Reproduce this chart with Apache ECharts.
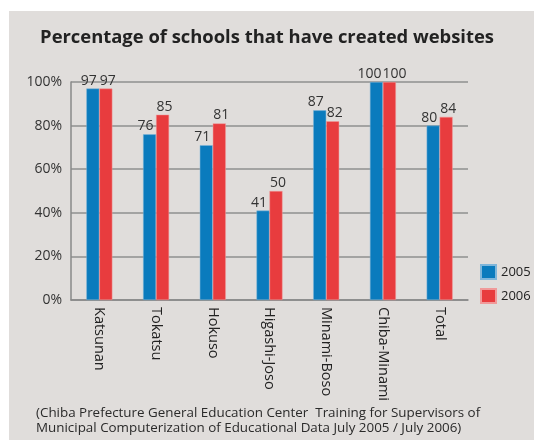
<!DOCTYPE html>
<html>
<head>
<meta charset="utf-8">
<script src="https://cdn.jsdelivr.net/npm/echarts@6/dist/echarts.min.js"></script>
<style>
  html, body { margin: 0; padding: 0; background: #fff; }
  #chart { width: 534px; height: 440px; }
</style>
</head>
<body>
<div id="chart"></div>
<script>
var categories = ['Katsunan', 'Tokatsu', 'Hokuso', 'Higashi-Joso', 'Minami-Boso', 'Chiba-Minami', 'Total'];
var data2005 = [97, 76, 71, 41, 87, 100, 80];
var data2006 = [97, 85, 81, 50, 82, 100, 84];
var yTicks = [0, 20, 40, 60, 80, 100];

var font = '"Open Sans", "Noto Sans", sans-serif';

// labels push apart a bit more when the number has 3 digits
function withLabelShift(values, dir) {
    return values.map(function (v) {
        var wide = String(v).length > 2;
        var dx = dir < 0 ? (wide ? -7 : -4) : (wide ? 5 : 2);
        return { value: v, label: { offset: [dx, 0] } };
    });
}

var chart = echarts.init(document.getElementById('chart'));
chart.setOption({
    backgroundColor: '#fff',
    graphic: [
        {
            type: 'rect', z: -10, silent: true,
            shape: { x: 9, y: 11, width: 525, height: 429 },
            style: { fill: '#e0dddb' }
        },
        {
            type: 'text', left: 36, top: 406,
            style: {
                text: '(Chiba Prefecture General Education Center  Training for Supervisors of\nMunicipal Computerization of Educational Data July 2005 / July 2006)',
                font: '13.4px ' + font, fill: '#2a2a2a', lineHeight: 15
            }
        }
    ],
    title: {
        text: 'Percentage of schools that have created websites',
        left: 'center', top: 24,
        textStyle: { fontFamily: font, fontSize: 18.4, fontWeight: 'bold', color: '#222' }
    },
    legend: {
        orient: 'vertical', left: 480, top: 264, padding: 0,
        itemWidth: 15, itemHeight: 14, itemGap: 8,
        icon: 'rect',
        textStyle: { fontFamily: font, fontSize: 13, color: '#222' },
        data: ['2005', '2006']
    },
    grid: { left: 71, right: 66, top: 82, bottom: 140 },
    xAxis: {
        type: 'category',
        data: categories,
        axisLine: { lineStyle: { color: '#888', width: 1.5 } },
        axisTick: { show: false },
        axisLabel: {
            rotate: -90, interval: 0, margin: 7,
            fontFamily: font, fontSize: 14.5, color: '#222'
        }
    },
    yAxis: {
        type: 'value',
        min: 0, max: 100, interval: 20,
        axisLine: { show: true, lineStyle: { color: '#888', width: 1.5 } },
        axisTick: { show: false },
        splitLine: { lineStyle: { color: '#8f8f8f', width: 1.5 } },
        axisLabel: {
            fontFamily: font, fontSize: 14, color: '#333', margin: 9,
            formatter: function (v) { return yTicks.indexOf(v) >= 0 ? v + '%' : ''; }
        }
    },
    series: [
        {
            name: '2005', type: 'bar', data: withLabelShift(data2005, -1),
            barWidth: 13, barGap: '0%',
            itemStyle: { color: '#0a7bbd', borderColor: '#7fb6da', borderWidth: 0.5 },
            label: { show: true, position: 'top', distance: 1, fontFamily: font, fontSize: 14, color: '#333' }
        },
        {
            name: '2006', type: 'bar', data: withLabelShift(data2006, 1),
            barWidth: 13,
            itemStyle: { color: '#e83c3e', borderColor: '#f09a9a', borderWidth: 0.5 },
            label: { show: true, position: 'top', distance: 1, fontFamily: font, fontSize: 14, color: '#333' }
        }
    ]
});
</script>
</body>
</html>
